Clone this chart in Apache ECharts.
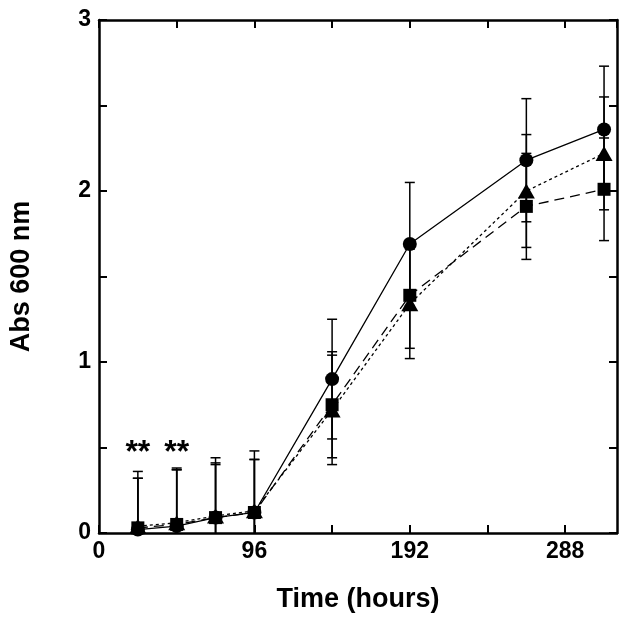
<!DOCTYPE html>
<html>
<head>
<meta charset="utf-8">
<script src="https://cdn.jsdelivr.net/npm/echarts@6/dist/echarts.min.js"></script>
<style>
html,body{margin:0;padding:0;background:#fff;}
#chart{width:625px;height:621px;}
</style>
</head>
<body>
<div id="chart"></div>
<script>
var times = [24, 48, 72, 96, 144, 192, 264, 312];
var circleY = [0.02, 0.04, 0.09, 0.12, 0.90, 1.69, 2.18, 2.36];
var circleErr = [0.34, 0.34, 0.35, 0.36, 0.35, 0.36, 0.36, 0.37];
var squareY = [0.03, 0.05, 0.09, 0.12, 0.75, 1.39, 1.91, 2.01];
var squareErr = [0.29, 0.32, 0.32, 0.31, 0.31, 0.31, 0.31, 0.30];
var triangleY = [0.04, 0.06, 0.10, 0.13, 0.72, 1.34, 2.00, 2.22];
var triangleErr = [0.28, 0.31, 0.30, 0.30, 0.32, 0.32, 0.33, 0.33];
var annotX = [24, 48];
var annotY = [0.5, 0.5];
var annotText = ['**', '**'];
var xTickLabels = [0, 96, 192, 288];
var yTickLabels = [0, 1, 2, 3];

var FONT = '"Liberation Sans", Arial, sans-serif';

function pts(ys) { return times.map(function (t, i) { return [t, ys[i]]; }); }
function errs(ys, es) { return times.map(function (t, i) { return [t, ys[i] - es[i], ys[i] + es[i]]; }); }

function errRender(params, api) {
  var x = api.value(0), lo = api.value(1), hi = api.value(2);
  var pLo = api.coord([x, lo]), pHi = api.coord([x, hi]);
  var hw = 5;
  var st = { stroke: '#000', lineWidth: 1.5 };
  return {
    type: 'group',
    children: [
      { type: 'line', shape: { x1: pLo[0], y1: pLo[1], x2: pHi[0], y2: pHi[1] }, style: st },
      { type: 'line', shape: { x1: pLo[0] - hw, y1: pLo[1], x2: pLo[0] + hw, y2: pLo[1] }, style: st },
      { type: 'line', shape: { x1: pHi[0] - hw, y1: pHi[1], x2: pHi[0] + hw, y2: pHi[1] }, style: st }
    ]
  };
}

function errSeries(ys, es) {
  return {
    type: 'custom', renderItem: errRender, data: errs(ys, es), clip: true, z: 1,
    encode: { x: 0, y: [1, 2] }, silent: true
  };
}

var axisLineStyle = { onZero: false, lineStyle: { color: '#000', width: 2.5 } };
var tickStyle = { show: true, inside: true, length: 8, lineStyle: { color: '#000', width: 2 } };

function xLabelFmt(v) { return xTickLabels.indexOf(v) >= 0 ? String(v) : ''; }
function yLabelFmt(v) { return yTickLabels.indexOf(v) >= 0 ? String(v) : ''; }

var chart = echarts.init(document.getElementById('chart'));
chart.setOption({
  animation: false,
  backgroundColor: '#fff',
  grid: { left: 98, right: 8, top: 20, bottom: 88, containLabel: false },
  xAxis: [
    {
      type: 'value', min: 0, max: 320, interval: 48, position: 'bottom',
      name: 'Time (hours)', nameLocation: 'middle', nameGap: 53,
      nameTextStyle: { fontFamily: FONT, fontWeight: 'bold', fontSize: 27, color: '#000' },
      axisLine: axisLineStyle, axisTick: tickStyle, splitLine: { show: false },
      axisLabel: { formatter: xLabelFmt, fontFamily: FONT, fontWeight: 'bold', fontSize: 23, color: '#000', margin: 7, showMaxLabel: false }
    },
    {
      type: 'value', min: 0, max: 320, interval: 48, position: 'top',
      axisLine: axisLineStyle, axisTick: tickStyle, splitLine: { show: false }, axisLabel: { show: false }
    }
  ],
  yAxis: [
    {
      type: 'value', min: 0, max: 3, interval: 0.5, position: 'left',
      name: 'Abs 600 nm', nameLocation: 'middle', nameGap: 64,
      nameTextStyle: { fontFamily: FONT, fontWeight: 'bold', fontSize: 27, color: '#000' },
      axisLine: axisLineStyle, axisTick: tickStyle, splitLine: { show: false },
      axisLabel: { formatter: yLabelFmt, fontFamily: FONT, fontWeight: 'bold', fontSize: 23, color: '#000', margin: 8 }
    },
    {
      type: 'value', min: 0, max: 3, interval: 0.5, position: 'right',
      axisLine: axisLineStyle, axisTick: tickStyle, splitLine: { show: false }, axisLabel: { show: false }
    }
  ],
  series: [
    errSeries(circleY, circleErr),
    errSeries(squareY, squareErr),
    errSeries(triangleY, triangleErr),
    {
      type: 'line', data: pts(circleY), symbol: 'circle', symbolSize: 14, z: 3,
      itemStyle: { color: '#000' }, lineStyle: { color: '#000', width: 1.3, type: 'solid' }
    },
    {
      type: 'line', data: pts(squareY), symbol: 'rect', symbolSize: 13, z: 3,
      itemStyle: { color: '#000' }, lineStyle: { color: '#000', width: 1.3, type: [10, 6] }
    },
    {
      type: 'line', data: pts(triangleY), symbol: 'triangle', symbolSize: [17, 15], z: 3,
      itemStyle: { color: '#000' }, lineStyle: { color: '#000', width: 1.3, type: [3, 3] }
    },
    {
      type: 'scatter', symbolSize: 0, z: 4, itemStyle: { opacity: 1, color: '#000' },
      data: annotX.map(function (x, i) { return { value: [x, annotY[i]], label: { formatter: annotText[i] } }; }),
      label: { show: true, position: 'inside', offset: [0, 6], fontFamily: FONT, fontWeight: 'bold', fontSize: 32, color: '#000', opacity: 1 }
    }
  ]
});
</script>
</body>
</html>
